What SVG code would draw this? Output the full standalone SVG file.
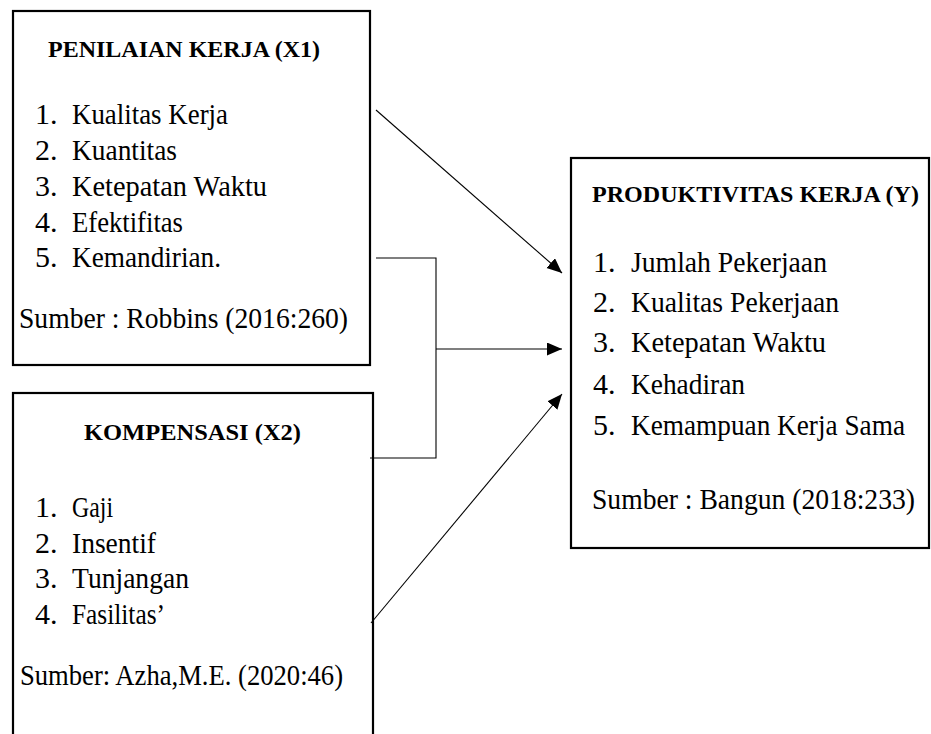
<svg xmlns="http://www.w3.org/2000/svg" width="931" height="734" viewBox="0 0 931 734">
<style>
.box{fill:#fff;stroke:#000;stroke-width:2.2}
.ttl{font-family:"Liberation Serif",serif;font-weight:bold;font-size:24px;fill:#000}
.num{font-family:"Liberation Serif",serif;font-size:30px;fill:#000}
.itm{font-family:"Liberation Serif",serif;font-size:29px;fill:#000}
.con{fill:none;stroke:#000;stroke-width:1.1}
</style>
<defs>
<marker id="ah" markerUnits="userSpaceOnUse" markerWidth="16" markerHeight="14" refX="15" refY="6.5" orient="auto">
<path d="M0,0 L15,6.5 L0,13 Z" fill="#000"/>
</marker>
</defs>
<rect width="931" height="734" fill="#fff"/>
<g id="x1">
<rect class="box" x="13" y="11" width="357" height="354"/>
<text class="ttl" x="48" y="57" textLength="272" lengthAdjust="spacingAndGlyphs">PENILAIAN KERJA (X1)</text>
<text class="num" x="35" y="124">1.</text>
<text class="itm" x="72" y="124" textLength="156" lengthAdjust="spacingAndGlyphs">Kualitas Kerja</text>
<text class="num" x="35" y="160">2.</text>
<text class="itm" x="72" y="160" textLength="105" lengthAdjust="spacingAndGlyphs">Kuantitas</text>
<text class="num" x="35" y="196">3.</text>
<text class="itm" x="72" y="196" textLength="195" lengthAdjust="spacingAndGlyphs">Ketepatan Waktu</text>
<text class="num" x="35" y="232">4.</text>
<text class="itm" x="72" y="232" textLength="111" lengthAdjust="spacingAndGlyphs">Efektifitas</text>
<text class="num" x="35" y="267">5.</text>
<text class="itm" x="72" y="267" textLength="149" lengthAdjust="spacingAndGlyphs">Kemandirian.</text>
<text class="itm" x="19" y="328" textLength="329" lengthAdjust="spacingAndGlyphs">Sumber : Robbins (2016:260)</text>
</g>
<g id="x2">
<rect class="box" x="13" y="393" width="360" height="360"/>
<text class="ttl" x="84" y="440" textLength="217" lengthAdjust="spacingAndGlyphs">KOMPENSASI (X2)</text>
<text class="num" x="35" y="517">1.</text>
<text class="itm" x="72" y="517" textLength="41" lengthAdjust="spacingAndGlyphs">Gaji</text>
<text class="num" x="35" y="553">2.</text>
<text class="itm" x="72" y="553" textLength="84" lengthAdjust="spacingAndGlyphs">Insentif</text>
<text class="num" x="35" y="588">3.</text>
<text class="itm" x="72" y="588" textLength="117" lengthAdjust="spacingAndGlyphs">Tunjangan</text>
<text class="num" x="35" y="624">4.</text>
<text class="itm" x="72" y="624" textLength="93" lengthAdjust="spacingAndGlyphs">Fasilitas’</text>
<text class="itm" x="20" y="685" textLength="323" lengthAdjust="spacingAndGlyphs">Sumber: Azha,M.E. (2020:46)</text>
</g>
<g id="y">
<rect class="box" x="571" y="158" width="358" height="390"/>
<text class="ttl" x="592" y="202" textLength="327" lengthAdjust="spacingAndGlyphs">PRODUKTIVITAS KERJA (Y)</text>
<text class="num" x="593" y="272">1.</text>
<text class="itm" x="631" y="272" textLength="196" lengthAdjust="spacingAndGlyphs">Jumlah Pekerjaan</text>
<text class="num" x="593" y="312">2.</text>
<text class="itm" x="631" y="312" textLength="208" lengthAdjust="spacingAndGlyphs">Kualitas Pekerjaan</text>
<text class="num" x="593" y="352">3.</text>
<text class="itm" x="631" y="352" textLength="195" lengthAdjust="spacingAndGlyphs">Ketepatan Waktu</text>
<text class="num" x="593" y="394">4.</text>
<text class="itm" x="631" y="394" textLength="114" lengthAdjust="spacingAndGlyphs">Kehadiran</text>
<text class="num" x="593" y="435">5.</text>
<text class="itm" x="631" y="435" textLength="274" lengthAdjust="spacingAndGlyphs">Kemampuan Kerja Sama</text>
<text class="itm" x="592" y="509" textLength="323" lengthAdjust="spacingAndGlyphs">Sumber : Bangun (2018:233)</text>
</g>
<g id="connectors">
<line class="con" x1="376" y1="110" x2="562" y2="273" marker-end="url(#ah)"/>
<polyline class="con" points="376,258 436,258 436,458 370,458"/>
<line class="con" x1="436" y1="349" x2="562" y2="349" marker-end="url(#ah)"/>
<line class="con" x1="371" y1="623" x2="562" y2="394" marker-end="url(#ah)"/>
</g>
</svg>
